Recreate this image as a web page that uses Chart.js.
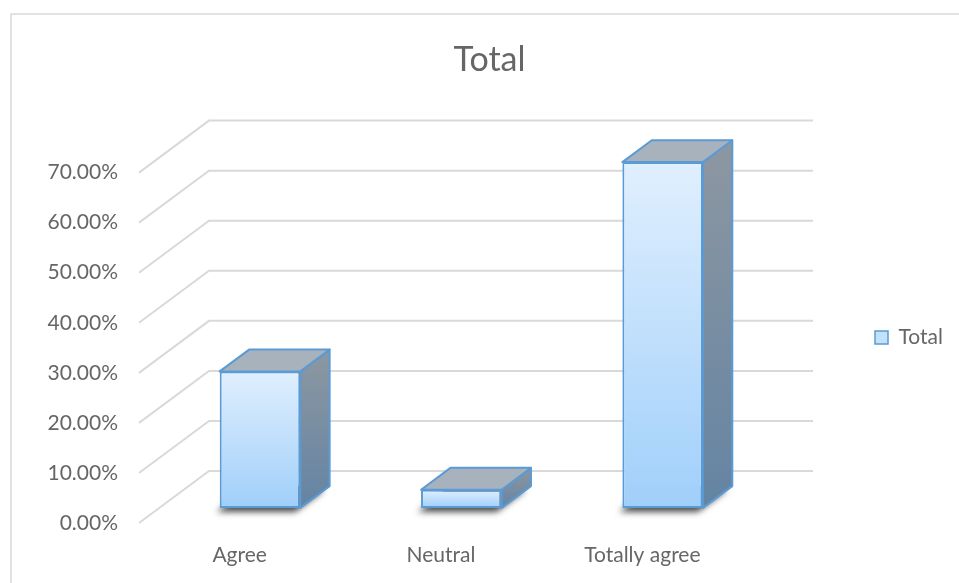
<!DOCTYPE html>
<html>
<head>
<meta charset="utf-8">
<title>Total</title>
<script src="https://cdn.jsdelivr.net/npm/chart.js@4.4.1/dist/chart.umd.min.js"></script>
<style>
  html, body { margin: 0; padding: 0; background: #ffffff; }
  #wrap { width: 959px; height: 583px; }
</style>
</head>
<body>
<div id="wrap"><canvas id="chart" width="959" height="583"></canvas></div>
<script>
// ---- data ----
const categories = ['Agree', 'Neutral', 'Totally agree'];
const totalShares = [0.2727, 0.0364, 0.6909];
const percentTicks = [0, 0.1, 0.2, 0.3, 0.4, 0.5, 0.6, 0.7];
const seriesName = 'Total';

// ---- look ----
const TEXT = '#666666';
const GRID = '#d9d9d9';
const EDGE = '#5b9bd5';
const FONT = 'Lato';
const TICK_SIZE = 21;
const LEGEND_SIZE = 21;
const LEGEND_BOX = 13;

// floor depth in pixels, and where the boxes sit along it
const DEPTH = { dx: 70, dy: -52 };
const FRONT_GAP = 0.29;
const BOX_DEPTH = 0.42;

// target frame of the plotting area
const PLOT_LEFT = 139, PLOT_RIGHT = 743, LEGEND_X = 875, TITLE_CX = 489.5;

Chart.defaults.font.family = FONT;
Chart.defaults.color = TEXT;

// legend width is text dependent: measure it so the plot keeps its frame
const meter = document.createElement('canvas').getContext('2d');
meter.font = LEGEND_SIZE + 'px ' + FONT;
const legendTextW = meter.measureText(seriesName).width;
const legendPad = LEGEND_X - PLOT_RIGHT;
const legendW = legendPad + LEGEND_BOX + LEGEND_SIZE / 2 + legendTextW + 10;
const padRight = 959 - PLOT_RIGHT - legendW;
const padLeft = 2 * TITLE_CX - 959 + padRight;

// outer frame of the chart object
const framePlugin = {
  id: 'frame',
  beforeDraw(chart) {
    const c = chart.ctx;
    c.save();
    c.strokeStyle = GRID;
    c.lineWidth = 1.5;
    c.strokeRect(11, 14, 2000, 2000);
    c.restore();
  }
};

// back wall and side wall gridlines, one per tick
const wallsPlugin = {
  id: 'walls',
  beforeDatasetsDraw(chart) {
    const { ctx, chartArea, scales } = chart;
    const y = scales.y;
    ctx.save();
    ctx.strokeStyle = GRID;
    ctx.lineWidth = 2;
    y.ticks.forEach(t => {
      const py = y.getPixelForValue(t.value);
      ctx.beginPath();
      ctx.moveTo(chartArea.left, py);
      ctx.lineTo(chartArea.left + DEPTH.dx, py + DEPTH.dy);
      ctx.lineTo(chartArea.right + DEPTH.dx, py + DEPTH.dy);
      ctx.stroke();
    });
    ctx.restore();
  }
};

// pushes the bars back into the floor and adds their top, side and shadow
const boxesPlugin = {
  id: 'boxes',
  beforeDatasetDraw(chart, args) {
    const ctx = chart.ctx;
    ctx.save();
    ctx.translate(DEPTH.dx * FRONT_GAP, DEPTH.dy * FRONT_GAP);
    const dx = DEPTH.dx * BOX_DEPTH, dy = DEPTH.dy * BOX_DEPTH;
    args.meta.data.forEach(bar => {
      const { x, y, base, width } = bar.getProps(['x', 'y', 'base', 'width'], true);
      const x0 = x - width / 2, x1 = x + width / 2;

      // soft shadow cast on the floor
      ctx.save();
      ctx.shadowColor = 'rgba(0,0,0,0.7)';
      ctx.shadowBlur = 6;
      ctx.shadowOffsetX = -5;
      ctx.shadowOffsetY = 4;
      ctx.fillStyle = '#3a3a3a';
      ctx.beginPath();
      ctx.moveTo(x0 + 2, base);
      ctx.lineTo(x1, base);
      ctx.lineTo(x1 + dx, base + dy);
      ctx.lineTo(x0 + dx, base + dy);
      ctx.closePath();
      ctx.fill();
      ctx.restore();

      ctx.lineWidth = 2;
      ctx.lineJoin = 'round';
      ctx.strokeStyle = EDGE;

      // right side
      const side = ctx.createLinearGradient(0, y + dy, 0, base);
      side.addColorStop(0, '#8d97a1');
      side.addColorStop(1, '#6484a3');
      ctx.fillStyle = side;
      ctx.beginPath();
      ctx.moveTo(x1, y);
      ctx.lineTo(x1 + dx, y + dy);
      ctx.lineTo(x1 + dx, base + dy);
      ctx.lineTo(x1, base);
      ctx.closePath();
      ctx.fill();
      ctx.stroke();

      // top
      ctx.fillStyle = '#a8b2bc';
      ctx.beginPath();
      ctx.moveTo(x0, y);
      ctx.lineTo(x1, y);
      ctx.lineTo(x1 + dx, y + dy);
      ctx.lineTo(x0 + dx, y + dy);
      ctx.closePath();
      ctx.fill();
      ctx.stroke();
    });
  },
  afterDatasetDraw(chart) {
    chart.ctx.restore();
  }
};

function frontFill(context) {
  const chart = context.chart;
  const y = chart.scales.y;
  if (!y || context.dataIndex === undefined) return '#c4e1fc';
  const top = y.getPixelForValue(context.raw);
  const bottom = y.getPixelForValue(0);
  const g = chart.ctx.createLinearGradient(0, top, 0, bottom);
  g.addColorStop(0, '#e0effe');
  g.addColorStop(1, '#a0cffa');
  return g;
}

new Chart(document.getElementById('chart'), {
  type: 'bar',
  data: {
    labels: categories,
    datasets: [{
      label: seriesName,
      data: totalShares,
      backgroundColor: frontFill,
      borderColor: EDGE,
      borderWidth: 2,
      borderSkipped: false,
      categoryPercentage: 1,
      barPercentage: 0.4,
      clip: false
    }]
  },
  options: {
    responsive: false,
    devicePixelRatio: 1,
    animation: false,
    events: [],
    layout: { padding: { left: padLeft, right: padRight, top: 0, bottom: 0 } },
    plugins: {
      tooltip: { enabled: false },
      title: {
        display: true,
        text: seriesName,
        color: TEXT,
        font: { size: 34, weight: 'normal' },
        padding: { top: 40, bottom: 91.8 }
      },
      legend: {
        position: 'right',
        align: 'center',
        title: { display: true, text: '', font: { size: 12, lineHeight: 1 }, padding: { top: 80, bottom: 0 } },
        labels: {
          boxWidth: LEGEND_BOX,
          boxHeight: LEGEND_BOX,
          padding: legendPad,
          color: TEXT,
          font: { size: LEGEND_SIZE },
          generateLabels: () => [{
            text: seriesName,
            fillStyle: '#c4e1fc',
            strokeStyle: EDGE,
            lineWidth: 1.5,
            fontColor: TEXT,
            hidden: false,
            datasetIndex: 0
          }]
        }
      }
    },
    scales: {
      x: {
        grid: { display: false, drawTicks: false },
        border: { display: false },
        ticks: { color: TEXT, font: { size: TICK_SIZE }, padding: 20, maxRotation: 0, autoSkip: false },
        afterFit(scale) { scale.height = 60; }
      },
      y: {
        min: percentTicks[0],
        max: percentTicks[percentTicks.length - 1],
        grid: { display: false, drawTicks: false },
        border: { display: false },
        afterBuildTicks(scale) { scale.ticks = percentTicks.map(v => ({ value: v })); },
        ticks: {
          color: TEXT,
          font: { size: TICK_SIZE },
          padding: 21,
          callback: v => (v * 100).toFixed(2) + '%'
        },
        afterFit(scale) { scale.width = PLOT_LEFT - padLeft; }
      }
    }
  },
  plugins: [framePlugin, wallsPlugin, boxesPlugin]
});
</script>
</body>
</html>
